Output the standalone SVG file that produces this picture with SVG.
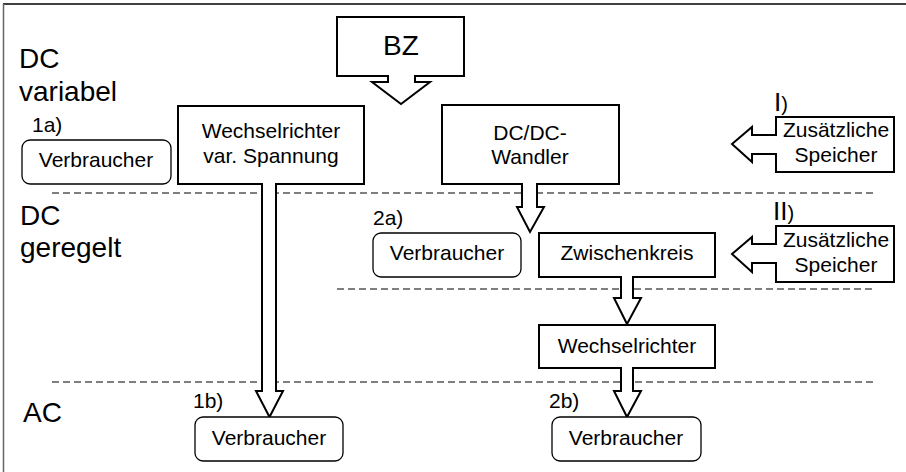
<svg xmlns="http://www.w3.org/2000/svg" width="906" height="472" viewBox="0 0 906 472">
<style>
.t{font-family:"Liberation Sans",Arial,sans-serif;font-size:21px;fill:#000}
.big{font-family:"Liberation Sans",Arial,sans-serif;font-size:28px;fill:#000}
.c{text-anchor:middle}
.box{fill:#fff;stroke:#000;stroke-width:2;stroke-linejoin:miter}
.rbox{fill:#fff;stroke:#000;stroke-width:1.3}
.dash{stroke:#555;stroke-width:1.3;stroke-dasharray:7 4;fill:none}
</style>
<rect width="906" height="472" fill="#fff"/>
<line x1="3" y1="4" x2="906" y2="4" stroke="#000" stroke-width="1.5"/>
<line x1="3.5" y1="4" x2="3.5" y2="472" stroke="#666" stroke-width="1.5"/>

<g id="levels">
<line class="dash" x1="52" y1="193" x2="873" y2="193"/>
<line class="dash" x1="337" y1="289" x2="873" y2="289"/>
<line class="dash" x1="52" y1="382" x2="873" y2="382"/>
<text class="big" x="19" y="68">DC</text>
<text class="big" x="19" y="101">variabel</text>
<text class="big" x="20" y="225">DC</text>
<text class="big" x="20" y="257">geregelt</text>
<text class="big" x="23" y="422">AC</text>
</g>

<g id="bz">
<path class="box" d="M337,17 H464 V76 H415 V82 H430 L401,104 L372,82 H388 V76 H337 Z"/>
<text class="big c" x="401" y="55">BZ</text>
</g>

<g id="verbraucher1a">
<text class="t" x="32" y="132">1a)</text>
<rect class="rbox" x="22" y="140" width="149" height="44" rx="8"/>
<text class="t c" x="96" y="167">Verbraucher</text>
</g>

<g id="wechselrichter-var">
<path class="box" d="M178,106 H364 V184 H276 V391 H283 L269.5,417 L256,391 H262 V184 H178 Z"/>
<text class="t c" x="271" y="138">Wechselrichter</text>
<text class="t c" x="271" y="163">var. Spannung</text>
</g>

<g id="dcdc">
<path class="box" d="M442,105 H619 V184 H537 V207 H544 L530,232 L517,207 H522 V184 H442 Z"/>
<text class="t c" x="530" y="140">DC/DC-</text>
<text class="t c" x="530" y="164">Wandler</text>
</g>

<g id="speicher1">
<text x="774" y="111" font-family="Liberation Sans,Arial,sans-serif"><tspan font-size="26">I</tspan><tspan font-size="20">)</tspan></text>
<path class="box" d="M776,117 H894 V172 H776 V154 H752 V162 L732,144 L752,127 V135 H776 Z"/>
<text class="t c" x="836" y="137">Zusätzliche</text>
<text class="t c" x="836" y="162">Speicher</text>
</g>

<g id="verbraucher2a">
<text class="t" x="373" y="225">2a)</text>
<rect class="rbox" x="373" y="233" width="148" height="44" rx="8"/>
<text class="t c" x="447" y="260">Verbraucher</text>
</g>

<g id="zwischenkreis">
<path class="box" d="M539,233 H715 V277 H633 V298 H641 L627,324 L614,298 H621 V277 H539 Z"/>
<text class="t c" x="627" y="260">Zwischenkreis</text>
</g>

<g id="speicher2">
<text x="773" y="220" font-family="Liberation Sans,Arial,sans-serif"><tspan font-size="26">II</tspan><tspan font-size="20">)</tspan></text>
<path class="box" d="M776,226 H894 V282 H776 V263 H752 V272 L732,254 L752,237 V244 H776 Z"/>
<text class="t c" x="836" y="247">Zusätzliche</text>
<text class="t c" x="836" y="272">Speicher</text>
</g>

<g id="wechselrichter">
<path class="box" d="M539,325 H715 V368 H633 V391 H641 L627,417 L614,391 H621 V368 H539 Z"/>
<text class="t c" x="627" y="353">Wechselrichter</text>
</g>

<g id="verbraucher1b">
<text class="t" x="193" y="408">1b)</text>
<rect class="rbox" x="195" y="417" width="148" height="44" rx="8"/>
<text class="t c" x="269" y="445">Verbraucher</text>
</g>

<g id="verbraucher2b">
<text class="t" x="549" y="408">2b)</text>
<rect class="rbox" x="552" y="417" width="149" height="44" rx="8"/>
<text class="t c" x="626" y="445">Verbraucher</text>
</g>
</svg>
